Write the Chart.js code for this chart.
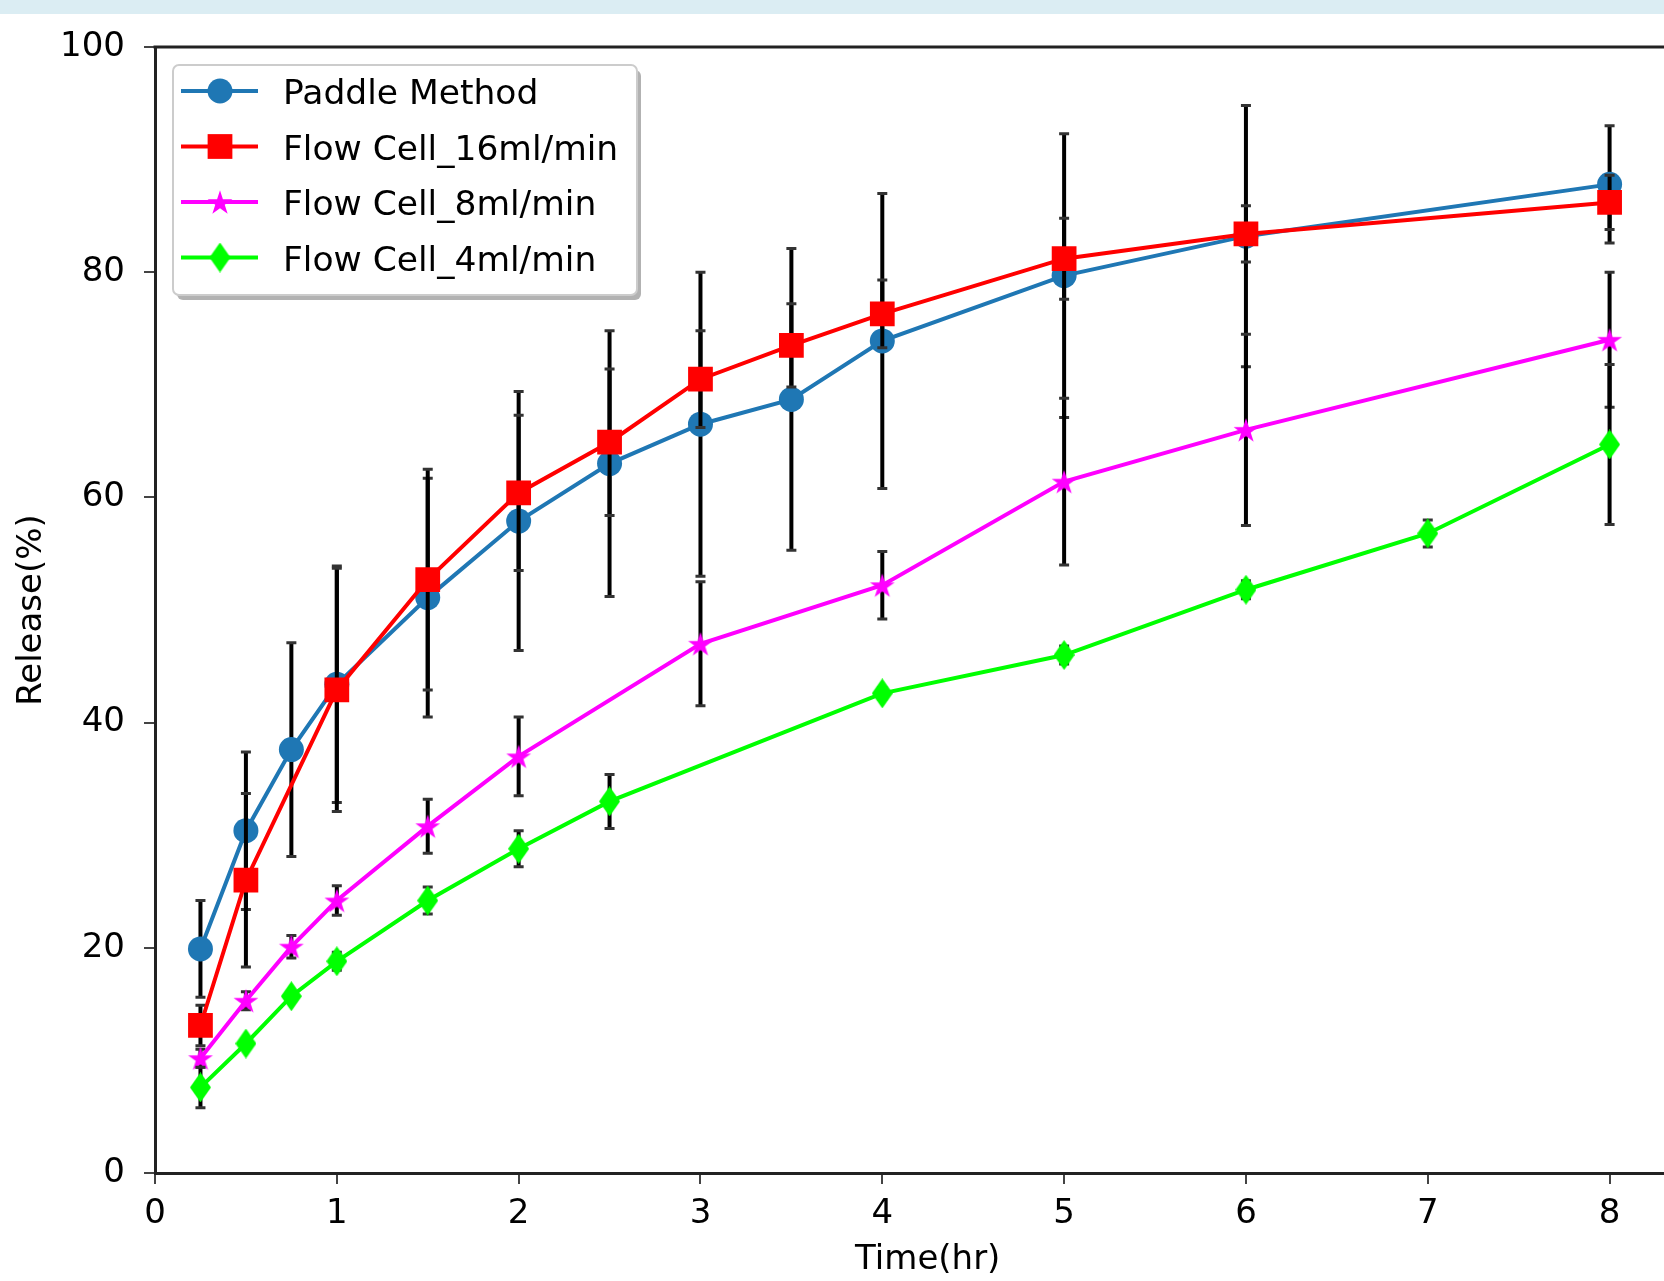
<!DOCTYPE html>
<html>
<head>
<meta charset="utf-8">
<script src="https://cdn.jsdelivr.net/npm/chart.js@4.4.0/dist/chart.umd.min.js"></script>
<style>
  html, body { margin: 0; padding: 0; background: #fff; overflow: hidden; }
  #band { position: absolute; left: 0; top: 0; width: 1664px; height: 14px; background: #dbedf3; }
  #wrap { position: absolute; left: 0; top: 0; width: 1718px; height: 1281px; }
</style>
</head>
<body>
<div id="band"></div>
<div id="wrap"><canvas id="chart" width="1718" height="1281"></canvas></div>
<script>
// Release profiles, mean and SD per time point (hr, %).

const paddleTime = [0.25, 0.5, 0.75, 1, 1.5, 2, 2.5, 3, 3.5, 4, 5, 6, 8];
const paddleRelease = [19.9, 30.4, 37.6, 43.4, 51.1, 57.9, 63.0, 66.5, 68.7, 73.9, 79.7, 83.2, 87.8];
const paddleSd = [4.3, 7.0, 9.5, 10.5, 10.6, 11.5, 11.8, 13.5, 13.4, 13.1, 12.6, 11.6, 5.2];

const flow16Time = [0.25, 0.5, 1, 1.5, 2, 2.5, 3, 3.5, 4, 5, 6, 8];
const flow16Release = [13.1, 26.0, 42.9, 52.7, 60.4, 64.9, 70.5, 73.5, 76.3, 81.2, 83.4, 86.2];
const flow16Sd = [1.8, 7.7, 10.8, 9.8, 6.9, 6.5, 4.3, 3.7, 3.0, 3.6, 2.5, 2.4];

const flow8Time = [0.25, 0.5, 0.75, 1, 1.5, 2, 3, 4, 5, 6, 8];
const flow8Release = [10.2, 15.3, 20.1, 24.2, 30.8, 37.0, 47.0, 52.2, 61.4, 66.0, 74.0];
const flow8Sd = [0.8, 0.8, 1.0, 1.3, 2.4, 3.5, 5.5, 3.0, 7.4, 8.5, 6.0];

const flow4Time = [0.25, 0.5, 0.75, 1, 1.5, 2, 2.5, 4, 5, 6, 7, 8];
const flow4Release = [7.6, 11.5, 15.7, 18.8, 24.2, 28.8, 33.0, 42.6, 46.0, 51.8, 56.8, 64.7];
const flow4Sd = [1.8, 0.4, 0.4, 0.8, 1.2, 1.6, 2.4, 0.5, 0.8, 0.8, 1.2, 7.1];

const seriesNames = ["Paddle Method", "Flow Cell_16ml/min", "Flow Cell_8ml/min", "Flow Cell_4ml/min"];

var FONT = "'DejaVu Sans', sans-serif";

function points(xs, ys) {
  return xs.map(function (t, i) { return { x: t, y: ys[i] }; });
}

// matplotlib-like filled markers as small canvases
function starImage(r, color) {
  var c = document.createElement("canvas");
  var size = Math.ceil(2 * r + 2);
  c.width = size; c.height = size;
  var g = c.getContext("2d");
  g.translate(size / 2, size / 2 + r * 0.1);
  g.beginPath();
  for (var i = 0; i < 10; i++) {
    var rad = i % 2 === 0 ? r : r * 0.382;
    var a = -Math.PI / 2 + i * Math.PI / 5;
    g.lineTo(rad * Math.cos(a), rad * Math.sin(a));
  }
  g.closePath(); g.fillStyle = color; g.fill();
  return c;
}

function diamondImage(w, h, color) {
  var c = document.createElement("canvas");
  c.width = w; c.height = h;
  var g = c.getContext("2d");
  g.beginPath();
  g.moveTo(w / 2, 0); g.lineTo(w, h / 2); g.lineTo(w / 2, h); g.lineTo(0, h / 2);
  g.closePath(); g.fillStyle = color; g.fill();
  return c;
}

var starImg = starImage(13, "#ff00ff");
var diamondImg = diamondImage(21, 30, "#00ff00");

function series(label, xs, ys, sd, color, style, radius, order) {
  return {
    label: label, data: points(xs, ys), sd: sd,
    borderColor: color, backgroundColor: color, borderWidth: 4,
    pointStyle: style, pointRadius: radius, pointBorderWidth: 0,
    pointBackgroundColor: color, tension: 0, order: order
  };
}

// error bars go under each series' own markers, over earlier series
var errorBars = {
  id: "errorBars",
  beforeDatasetDraw: function (chart, args) {
    var ds = chart.data.datasets[args.index];
    var xs = chart.scales.x, ys = chart.scales.y, ctx = chart.ctx;
    ctx.save();
    ds.data.forEach(function (p, i) {
      var px = xs.getPixelForValue(p.x);
      var top = ys.getPixelForValue(p.y + ds.sd[i]);
      var bot = ys.getPixelForValue(p.y - ds.sd[i]);
      ctx.strokeStyle = "#000"; ctx.lineWidth = 4;
      ctx.beginPath(); ctx.moveTo(px, top); ctx.lineTo(px, bot); ctx.stroke();
      ctx.strokeStyle = "#333"; ctx.lineWidth = 3;
      ctx.beginPath();
      ctx.moveTo(px - 5, top); ctx.lineTo(px + 5, top);
      ctx.moveTo(px - 5, bot); ctx.lineTo(px + 5, bot);
      ctx.stroke();
    });
    ctx.restore();
  }
};

var topSpine = {
  id: "topSpine",
  afterDraw: function (chart) {
    var a = chart.chartArea, ctx = chart.ctx;
    ctx.save();
    ctx.strokeStyle = "#222"; ctx.lineWidth = 3;
    ctx.beginPath(); ctx.moveTo(a.left - 1.5, a.top); ctx.lineTo(a.right, a.top); ctx.stroke();
    ctx.restore();
  }
};

var boxLegend = {
  id: "boxLegend",
  afterDraw: function (chart) {
    var ctx = chart.ctx;
    var x0 = 173, y0 = 65, w = 464, h = 230;
    ctx.save();
    ctx.fillStyle = "rgba(0,0,0,0.3)";
    ctx.beginPath(); ctx.roundRect(x0 + 4, y0 + 5, w, h, 6); ctx.fill();
    ctx.fillStyle = "#fff"; ctx.strokeStyle = "#cccccc"; ctx.lineWidth = 2;
    ctx.beginPath(); ctx.roundRect(x0, y0, w, h, 6); ctx.fill(); ctx.stroke();
    chart.data.datasets.forEach(function (ds, i) {
      var cy = 91 + i * 55.5;
      ctx.strokeStyle = ds.borderColor; ctx.lineWidth = 4;
      ctx.beginPath(); ctx.moveTo(181, cy); ctx.lineTo(258, cy); ctx.stroke();
      ctx.fillStyle = ds.borderColor;
      var mx = 220;
      if (ds.pointStyle === "circle") {
        ctx.beginPath(); ctx.arc(mx, cy, ds.pointRadius, 0, Math.PI * 2); ctx.fill();
      } else if (ds.pointStyle === "rect") {
        var s = ds.pointRadius * Math.SQRT1_2;
        ctx.fillRect(mx - s, cy - s, 2 * s, 2 * s);
      } else {
        var img = ds.pointStyle;
        ctx.drawImage(img, mx - img.width / 2, cy - img.height / 2);
      }
      ctx.fillStyle = "#000";
      ctx.font = "34.5px " + FONT;
      ctx.textBaseline = "alphabetic"; ctx.textAlign = "left";
      ctx.fillText(ds.label, 283, cy + 13);
    });
    ctx.restore();
  }
};

new Chart(document.getElementById("chart"), {
  type: "line",
  data: {
    datasets: [
      series(seriesNames[0], paddleTime, paddleRelease, paddleSd, "#1f77b4", "circle", 12.5, 4),
      series(seriesNames[1], flow16Time, flow16Release, flow16Sd, "#ff0000", "rect", 17.5, 3),
      series(seriesNames[2], flow8Time, flow8Release, flow8Sd, "#ff00ff", starImg, 10, 2),
      series(seriesNames[3], flow4Time, flow4Release, flow4Sd, "#00ff00", diamondImg, 10, 1)
    ]
  },
  options: {
    responsive: false, animation: false, events: [],
    layout: { padding: { top: 47, left: 0, right: 0, bottom: 0 } },
    plugins: { legend: { display: false }, tooltip: { enabled: false } },
    scales: {
      x: {
        type: "linear", min: 0, max: 8.5,
        afterBuildTicks: function (s) { s.ticks = s.ticks.filter(function (t) { return t.value <= 8; }); },
        ticks: { stepSize: 1, includeBounds: false, color: "#000", padding: 10, font: { family: FONT, size: 34 } },
        grid: { drawOnChartArea: false, drawTicks: true, tickLength: 11, color: "#444", lineWidth: 2 },
        border: { color: "#222", width: 3 },
        title: { display: true, text: "Time(hr)", color: "#000", font: { family: FONT, size: 34 }, padding: { top: 0, bottom: 0 } },
        afterFit: function (s) { s.height = 108; }
      },
      y: {
        min: 0, max: 100,
        ticks: { stepSize: 20, color: "#000", padding: 19, font: { family: FONT, size: 34 } },
        grid: { drawOnChartArea: false, drawTicks: true, tickLength: 11, color: "#444", lineWidth: 2 },
        border: { color: "#222", width: 3 },
        title: { display: true, text: "Release(%)", color: "#000", font: { family: FONT, size: 34 }, padding: { top: 12, bottom: 0 } },
        afterFit: function (s) { s.width = 155; }
      }
    }
  },
  plugins: [errorBars, topSpine, boxLegend]
});
</script>
</body>
</html>
